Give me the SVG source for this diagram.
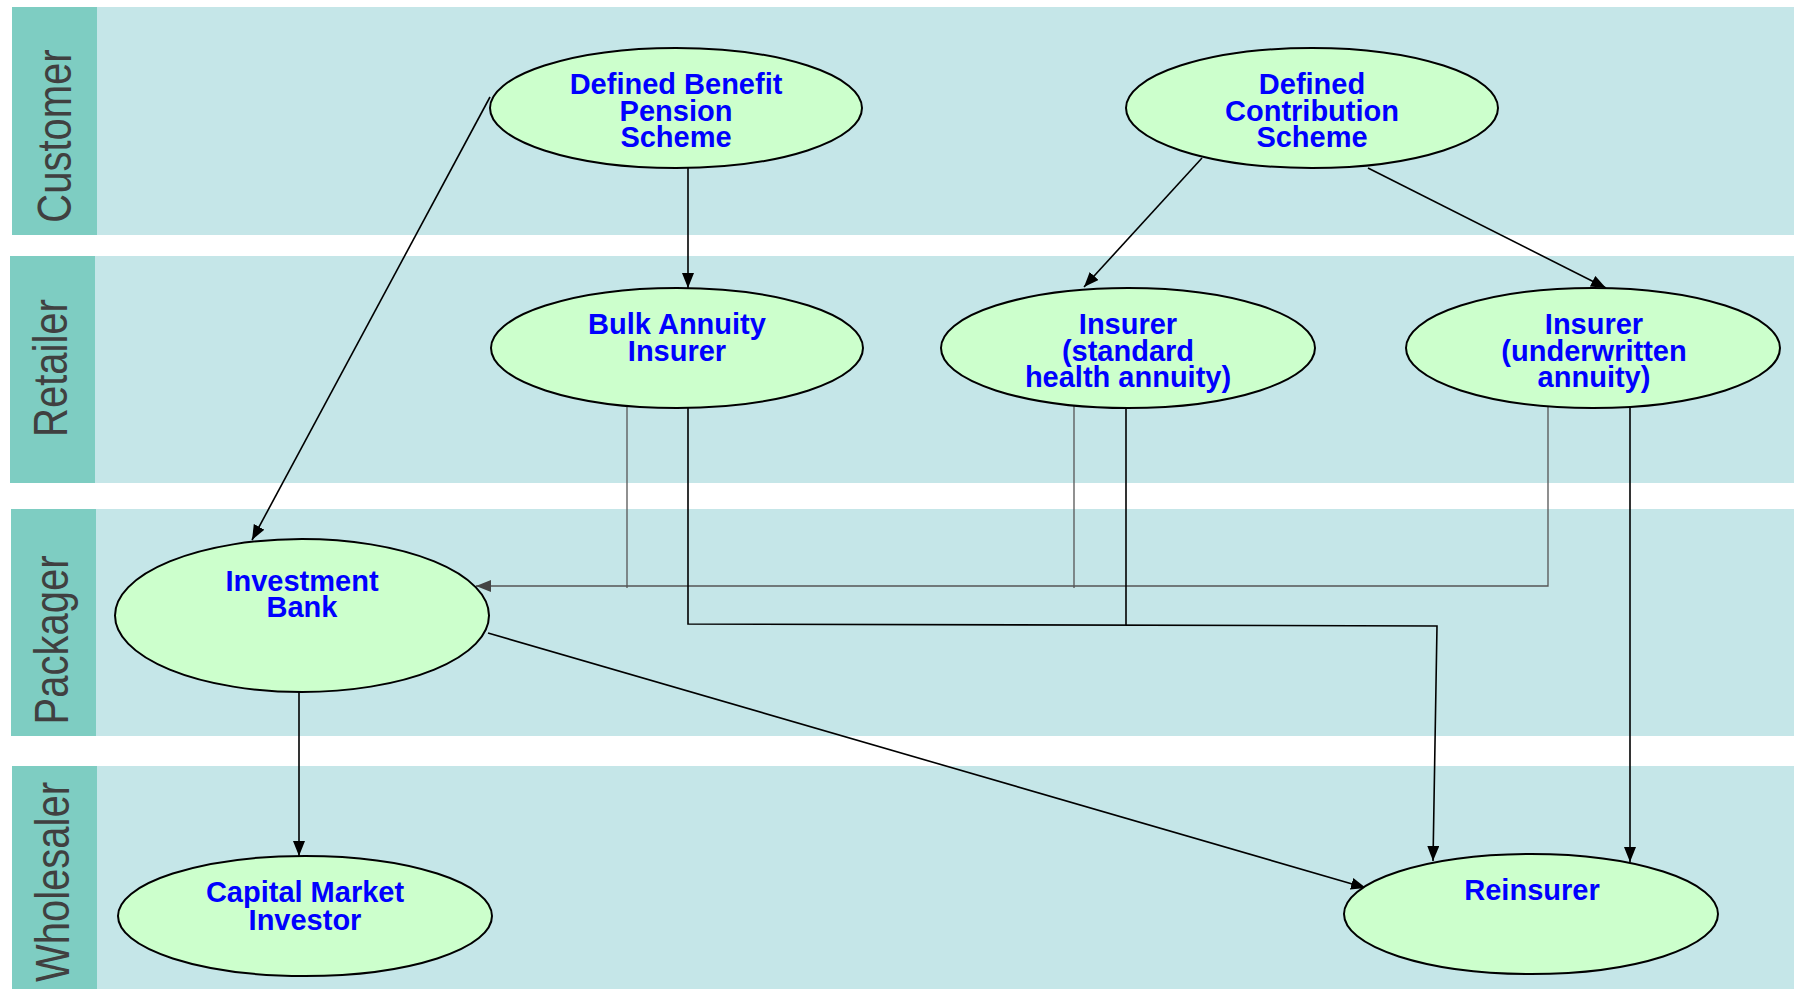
<svg xmlns="http://www.w3.org/2000/svg" width="1794" height="989" viewBox="0 0 1794 989">
<style>
.hdr{fill:#7ECDC2}
.lane{fill:#C5E6E8}
.lbl{font-family:"Liberation Sans",Arial,sans-serif;font-size:40px;fill:#404040;text-anchor:middle}
.node ellipse{fill:#CCFFCC;stroke:#000;stroke-width:2}
.node text{font-family:"Liberation Sans",Arial,sans-serif;font-weight:bold;font-size:29px;fill:#0000FF;text-anchor:middle}
.c{fill:none;stroke:#000;stroke-width:1.6}
.g{fill:none;stroke:#555;stroke-width:1.3}
</style>
<defs>
<marker id="ab" markerUnits="userSpaceOnUse" markerWidth="16" markerHeight="14" refX="15" refY="6" orient="auto"><path d="M0,0 L15,6 L0,12 z" fill="#000"/></marker>
<marker id="ag" markerUnits="userSpaceOnUse" markerWidth="16" markerHeight="14" refX="15" refY="6" orient="auto"><path d="M0,0 L15,6 L0,12 z" fill="#444"/></marker>
</defs>
<rect width="1794" height="989" fill="#fff"/>
<g id="lanes">
<rect class="lane" x="97" y="7" width="1697" height="228"/>
<rect class="hdr" x="12" y="7" width="85" height="228"/>
<rect class="lane" x="95" y="256" width="1699" height="227"/>
<rect class="hdr" x="10" y="256" width="85" height="227"/>
<rect class="lane" x="96" y="509" width="1698" height="227"/>
<rect class="hdr" x="11" y="509" width="85" height="227"/>
<rect class="lane" x="97" y="766" width="1697" height="223"/>
<rect class="hdr" x="12" y="766" width="85" height="223"/>
<text class="lbl" transform="translate(71,136) rotate(-90) scale(1,1.19)">Customer</text>
<text class="lbl" transform="translate(67,368) rotate(-90) scale(1,1.19)">Retailer</text>
<text class="lbl" transform="translate(68,640) rotate(-90) scale(1,1.19)">Packager</text>
<text class="lbl" transform="translate(69,882) rotate(-90) scale(1,1.19)">Wholesaler</text>
</g>
<g id="connectors">
<path class="c" d="M490,97 L252,540" marker-end="url(#ab)"/>
<path class="c" d="M688,168 L688,288" marker-end="url(#ab)"/>
<path class="c" d="M1202,158 L1084,287" marker-end="url(#ab)"/>
<path class="c" d="M1368,168 L1606,288" marker-end="url(#ab)"/>
<path class="g" d="M627,402 L627,588"/>
<path class="g" d="M1074,404 L1074,588"/>
<path class="g" d="M1548,404 L1548,586 L476,586" marker-end="url(#ag)"/>
<path class="c" d="M688,408 L688,624 L1437,626 L1433,861" marker-end="url(#ab)"/>
<path class="c" d="M1126,408 L1126,625"/>
<path class="c" d="M1630,408 L1630,862" marker-end="url(#ab)"/>
<path class="c" d="M488,633 L1366,888" marker-end="url(#ab)"/>
<path class="c" d="M299,692 L299,856" marker-end="url(#ab)"/>
</g>
<g id="db" class="node"><ellipse cx="676" cy="108" rx="186" ry="60"/><text x="676" y="94">Defined Benefit</text><text x="676" y="121">Pension</text><text x="676" y="147">Scheme</text></g>
<g id="dc" class="node"><ellipse cx="1312" cy="108" rx="186" ry="60"/><text x="1312" y="94">Defined</text><text x="1312" y="121">Contribution</text><text x="1312" y="147">Scheme</text></g>
<g id="bulk" class="node"><ellipse cx="677" cy="348" rx="186" ry="60"/><text x="677" y="334">Bulk Annuity</text><text x="677" y="361">Insurer</text></g>
<g id="ins-std" class="node"><ellipse cx="1128" cy="348" rx="187" ry="60"/><text x="1128" y="334">Insurer</text><text x="1128" y="361">(standard</text><text x="1128" y="387">health annuity)</text></g>
<g id="ins-uw" class="node"><ellipse cx="1593" cy="348" rx="187" ry="60"/><text x="1594" y="334">Insurer</text><text x="1594" y="361">(underwritten</text><text x="1594" y="387">annuity)</text></g>
<g id="ib" class="node"><ellipse cx="302" cy="615.5" rx="187" ry="76.5"/><text x="302" y="591">Investment</text><text x="302" y="617">Bank</text></g>
<g id="cmi" class="node"><ellipse cx="305" cy="916" rx="187" ry="60"/><text x="305" y="902">Capital Market</text><text x="305" y="930">Investor</text></g>
<g id="reins" class="node"><ellipse cx="1531" cy="914" rx="187" ry="60"/><text x="1532" y="900">Reinsurer</text></g>
</svg>
